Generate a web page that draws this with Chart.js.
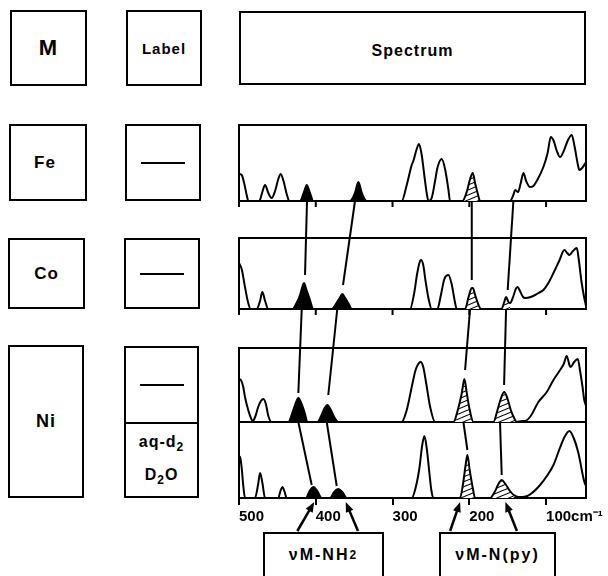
<!DOCTYPE html>
<html>
<head>
<meta charset="utf-8">
<script src="https://cdn.jsdelivr.net/npm/chart.js@4.4.1/dist/chart.umd.min.js"></script>
<style>
  body { margin: 0; background: #fff; font-family: "Liberation Sans", Arial, sans-serif; }
  #wrap { position: relative; width: 608px; height: 576px; overflow: hidden; }
  #wrap canvas { position: absolute; left: 0; top: 0; }
  .box { position: absolute; box-sizing: border-box; border: 2px solid #000; display: flex;
         align-items: center; justify-content: center; font-weight: bold; font-size: 17px; color: #000; letter-spacing: 1px; }
  .dash { width: 44px; height: 2px; background: #000; }
  .half { position: absolute; left: 0; right: 0; display: flex; flex-direction: column; align-items: center; justify-content: center; }
  sub { font-size: 12px; vertical-align: -4px; }
</style>
</head>
<body>
<div id="wrap">
  <div class="box" style="left:10px;top:10px;width:77px;height:76px;font-size:22px;">M</div>
  <div class="box" style="left:126px;top:10px;width:76px;height:76px;font-size:15px;">Label</div>
  <div class="box" style="left:239px;top:11px;width:347px;height:74px;font-size:16px;padding-top:6px;">Spectrum</div>

  <div class="box" style="left:9px;top:124px;width:78px;height:77px;padding-right:6px;">Fe</div>
  <div class="box" style="left:125px;top:124px;width:76px;height:77px;"><div class="dash"></div></div>

  <div class="box" style="left:8px;top:238px;width:77px;height:71px;">Co</div>
  <div class="box" style="left:124px;top:238px;width:76px;height:71px;"><div class="dash"></div></div>

  <div class="box" style="left:8px;top:345px;width:76px;height:153px;font-size:18px;">Ni</div>
  <div class="box" style="left:124px;top:346px;width:75px;height:152px;display:block;">
    <div class="half" style="top:0;height:74px;border-bottom:2px solid #000;"><div class="dash"></div></div>
    <div class="half" style="top:76px;height:74px;font-size:16px;line-height:27px;">
      <div>aq-d<sub>2</sub></div><div>D<sub>2</sub>O</div>
    </div>
  </div>

  <div class="box" style="left:263px;top:532px;width:121px;height:70px;font-size:16px;letter-spacing:2px;padding-bottom:24px;">&nu;M-NH<sub>2</sub></div>
  <div class="box" style="left:439px;top:532px;width:117px;height:70px;font-size:16px;letter-spacing:2px;padding-bottom:24px;">&nu;M-N(py)</div>

  <canvas id="chart" width="608" height="576"></canvas>
</div>
<script>
// spectra: [wavenumber cm-1, intensity]
const feSpectrum = [
  [500, 27], [496.5, 26], [493, 17], [490, 6], [487.8, 0],
  [473.5, 0], [469.6, 9], [466.1, 16], [461.8, 8], [457.4, 3], [453, 10], [448.8, 22], [445.7, 27], [442, 20], [437.9, 7], [434.4, 0],
  [420.5, 0], [415.3, 9], [411.8, 16], [408, 9], [403.1, 0],
  [355.4, 0], [349, 8], [344.5, 19], [340, 8], [333.7, 0],
  [288.1, 0], [281.5, 16], [275, 36], [272.9, 40], [268.5, 52], [265.5, 57], [262, 46], [258.5, 25], [255.5, 8], [253.3, 0],
  [249, 3], [244.6, 20], [241.6, 33], [235.9, 42], [231.6, 32], [227.3, 12], [225.1, 0],
  [209, 0], [203, 10], [199, 22], [195.5, 28], [192.5, 18], [188.5, 6], [186, 0],
  [146.9, 0], [142.6, 6], [140.4, 11], [136.5, 9], [133, 18], [129.5, 28], [126, 20], [120.9, 14], [116.5, 15], [112.2, 20],
  [103.5, 34], [98, 48], [93.9, 64], [90, 60], [86, 50], [81.8, 44], [77, 50], [72, 60], [66.6, 66], [63, 55], [58.5, 36],
  [56.6, 31], [53, 33], [48, 39]
];
const coSpectrum = [
  [500, 46], [496.5, 40], [492.2, 22], [488, 6], [484.8, 0],
  [477, 0], [472.6, 8], [469.6, 17], [466, 8], [461.8, 0],
  [430.1, 0], [425, 6], [420.5, 14], [417.5, 22], [415.3, 26], [412.5, 20], [408, 10], [403.1, 0],
  [379.3, 0], [373, 6], [368, 12], [365.4, 15], [362.5, 12], [357, 5], [353.2, 0],
  [277.2, 0], [272, 15], [268, 35], [265, 46], [262.9, 49], [260, 44], [257, 28], [253, 10], [249, 0],
  [241.6, 0], [237, 14], [232.5, 30], [227.3, 34], [223, 25], [219, 8], [216.4, 0],
  [205.5, 0], [201, 12], [196.8, 21], [195.5, 21], [192, 13], [188, 4], [185.1, 0],
  [158, 0], [154.5, 7], [152.1, 12], [149, 7], [146.9, 6], [143, 12], [139.5, 20], [137.3, 22], [134, 18], [130, 12],
  [127.4, 11], [120, 12], [110, 16], [103.5, 19], [97, 26], [90.4, 36], [83, 48], [76.1, 59], [72.5, 56], [69.6, 54],
  [65, 58], [60, 61], [57.5, 50], [54, 28], [50.5, 12], [48, 3]
];
const niSpectrum = [
  [500, 43], [497.5, 42], [494.4, 35], [492.2, 25], [488, 12], [484.5, 4], [482.2, 1], [479, 5], [475, 15], [471.5, 21],
  [468.3, 23], [465, 18], [461.8, 6], [457.4, 0],
  [435.7, 0], [431, 8], [427, 17], [422.7, 24], [418.5, 18], [414, 8], [411, 0],
  [397.9, 0], [393, 6], [389, 13], [384.9, 17], [381, 13], [376, 5], [370.6, 0],
  [288.1, 0], [281.5, 12], [275, 35], [270, 52], [266.5, 58], [263.3, 60], [260, 55], [256, 38], [251, 15], [244.6, 0],
  [220.7, 0], [215, 12], [210, 28], [206.4, 43], [203.5, 30], [200, 14], [194.7, 0],
  [168.6, 0], [164, 10], [159.5, 22], [154.7, 30], [150.5, 24], [146, 12], [141, 3], [138.2, 0],
  [131.7, 1], [127.4, 1], [120, 6], [110, 20], [99.1, 30], [90.4, 42], [83.5, 50], [77, 58], [73.1, 66], [69.6, 57],
  [67.9, 55], [63.5, 60], [58.7, 63], [55.5, 50], [52.5, 35], [50.5, 23], [48, 16]
];
const niD2oSpectrum = [
  [500, 42], [498.3, 40], [496.5, 30], [494.4, 12], [492.2, 0],
  [479.2, 0], [475, 14], [472.6, 25], [469.5, 15], [466.1, 0],
  [448.8, 0], [446, 7], [443.5, 11], [440.5, 6], [437.9, 0],
  [412.7, 0], [408, 7], [403.1, 11], [398, 7], [392.3, 0],
  [381.4, 0], [376, 6], [370.6, 9], [365.5, 6], [359.7, 0],
  [275, 0], [270, 10], [265, 30], [261.5, 52], [258.5, 62], [255.5, 50], [252, 25], [249.5, 8], [246.8, 0],
  [212.1, 0], [208, 15], [205, 32], [202.5, 43], [199.5, 28], [195.5, 10], [192.5, 0],
  [172.9, 0], [167, 6], [162, 14], [157.8, 18], [153, 14], [147, 7], [142, 3], [136, 1], [129.5, 1],
  [120, 4], [107.8, 13], [99, 22], [90.4, 33], [82, 50], [76, 61], [69.6, 67], [64, 60], [57.9, 45], [53.5, 28],
  [50.5, 17], [48, 12]
];

// shaded bands [from, to] in cm-1
const nh2Bands = { Fe: [[403.1, 420.5], [333.7, 355.4]], Co: [[403.1, 430.1], [353.2, 379.3]],
                   Ni: [[411, 435.7], [370.6, 397.9]], NiD: [[392.3, 412.7], [359.7, 381.4]] };
const pyBands  = { Fe: [[186, 209]], Co: [[185.1, 205.5], [146.9, 158]],
                   Ni: [[194.7, 220.7], [138.2, 168.6]], NiD: [[192.5, 212.1], [142, 172.9]] };

// correlation lines: [cm-1 above, panel above, cm-1 below, panel below, intensity reached below]
const connectors = [
  [411.4, 'Fe', 414, 'Co', 34], [348.9, 'Fe', 364.5, 'Co', 24], [196.8, 'Fe', 196.8, 'Co', 29], [142.6, 'Fe', 150, 'Co', 19],
  [418.3, 'Co', 422.7, 'Ni', 29], [372, 'Co', 383.7, 'Ni', 27], [199, 'Co', 205.5, 'Ni', 52], [152.1, 'Co', 154.7, 'Ni', 37],
  [422.7, 'Ni', 405.3, 'NiD', 13], [385.7, 'Ni', 372.7, 'NiD', 12], [207.7, 'Ni', 202.5, 'NiD', 48], [160, 'Ni', 157.8, 'NiD', 23]
];
// label arrows [tail cm-1, tip cm-1]
const bandArrows = [[424, 402], [345, 361], [225, 212], [138, 153]];

const tickValues = [100, 200, 300, 400, 500];

// layout of the stacked panels (y units)
const panels = [
  { key: 'Fe', data: feSpectrum, base: 297, height: 76, ticks: true },
  { key: 'Co', data: coSpectrum, base: 189, height: 71, ticks: true },
  { key: 'Ni', data: niSpectrum, base: 76, height: 74, ticks: false },
  { key: 'NiD', data: niD2oSpectrum, base: 0, height: 76, ticks: false }
];
const baseOf = k => panels.find(p => p.key === k).base;

function makeHatch() {
  const c = document.createElement('canvas');
  c.width = 12; c.height = 5;
  const g = c.getContext('2d');
  g.fillStyle = '#fff'; g.fillRect(0, 0, 12, 5);
  g.strokeStyle = '#000'; g.lineWidth = 1.1;
  [-5, 0, 5].forEach(o => { g.beginPath(); g.moveTo(-6, 7.5 + o); g.lineTo(18, -2.5 + o); g.stroke(); });
  return g.createPattern(c, 'repeat');
}

const ctx = document.getElementById('chart').getContext('2d');
const hatch = makeHatch();
const datasets = [];

panels.forEach(p => {
  datasets.push({
    data: p.data.map(([w, h]) => ({ x: w, y: p.base + h })),
    borderColor: '#000', borderWidth: 2, cubicInterpolationMode: 'monotone', fill: false, order: 0
  });
  [[nh2Bands[p.key], '#000'], [pyBands[p.key], hatch]].forEach(([bands, bg]) => {
    bands.forEach(([lo, hi]) => {
      datasets.push({
        data: p.data.filter(([w]) => w >= lo && w <= hi).map(([w, h]) => ({ x: w, y: p.base + h })),
        borderWidth: 0, borderColor: 'rgba(0,0,0,0)', backgroundColor: bg,
        cubicInterpolationMode: 'monotone', fill: { value: p.base }, order: 1
      });
    });
  });
});

connectors.forEach(([w1, k1, w2, k2, h2]) => {
  datasets.push({
    data: [{ x: w1, y: baseOf(k1) }, { x: w2, y: baseOf(k2) + h2 }],
    borderColor: '#000', borderWidth: 2, tension: 0, fill: false, order: 0
  });
});

const framePlugin = {
  id: 'frames',
  beforeDatasetsDraw(chart) {
    const { ctx, chartArea: a, scales: { x, y } } = chart;
    ctx.save();
    ctx.strokeStyle = '#000';
    ctx.lineWidth = 2;
    panels.forEach(p => {
      const top = y.getPixelForValue(p.base + p.height), bot = y.getPixelForValue(p.base);
      ctx.strokeRect(a.left, top, a.right - a.left, bot - top);
      if (!p.ticks) return;
      tickValues.forEach(v => {
        const px = x.getPixelForValue(v);
        ctx.beginPath(); ctx.moveTo(px, bot); ctx.lineTo(px, bot + 6); ctx.stroke();
      });
    });
    ctx.restore();
  },
  afterDraw(chart) {
    const { ctx, chartArea: a, scales: { x } } = chart;
    ctx.save();
    ctx.strokeStyle = '#000'; ctx.fillStyle = '#000'; ctx.lineWidth = 2.5;
    bandArrows.forEach(([tail, tip]) => {
      const x0 = x.getPixelForValue(tail), y0 = a.bottom + 33;
      const x1 = x.getPixelForValue(tip), y1 = a.bottom + 4;
      const ang = Math.atan2(y1 - y0, x1 - x0);
      ctx.beginPath(); ctx.moveTo(x0, y0); ctx.lineTo(x1 - 6 * Math.cos(ang), y1 - 6 * Math.sin(ang)); ctx.stroke();
      ctx.beginPath();
      ctx.moveTo(x1, y1);
      ctx.lineTo(x1 - 10 * Math.cos(ang) + 4 * Math.sin(ang), y1 - 10 * Math.sin(ang) - 4 * Math.cos(ang));
      ctx.lineTo(x1 - 10 * Math.cos(ang) - 4 * Math.sin(ang), y1 - 10 * Math.sin(ang) + 4 * Math.cos(ang));
      ctx.closePath(); ctx.fill();
    });
    ctx.restore();
  }
};

new Chart(ctx, {
  type: 'line',
  data: { datasets },
  plugins: [framePlugin],
  options: {
    responsive: false,
    animation: false,
    layout: { padding: { left: 239, right: 22, top: 125, bottom: 48 } },
    elements: { point: { radius: 0 } },
    plugins: { legend: { display: false }, tooltip: { enabled: false } },
    scales: {
      x: {
        type: 'linear', min: 48, max: 500, reverse: true,
        afterBuildTicks: s => { s.ticks = tickValues.map(v => ({ value: v })); },
        afterFit: s => { s.height = 30; },
        grid: { display: true, drawOnChartArea: false, drawTicks: true, tickLength: 7, color: '#000', lineWidth: 2 },
        border: { display: true, color: '#000', width: 2 },
        ticks: {
          align: 'start', autoSkip: false, maxRotation: 0, padding: 3, color: '#000',
          font: { family: 'Liberation Sans', weight: 'bold', size: 15 },
          callback: v => v === 100 ? '100cm\u207B\u00B9' : String(v)
        }
      },
      y: { display: false, min: 0, max: 373 }
    }
  }
});
</script>
</body>
</html>
